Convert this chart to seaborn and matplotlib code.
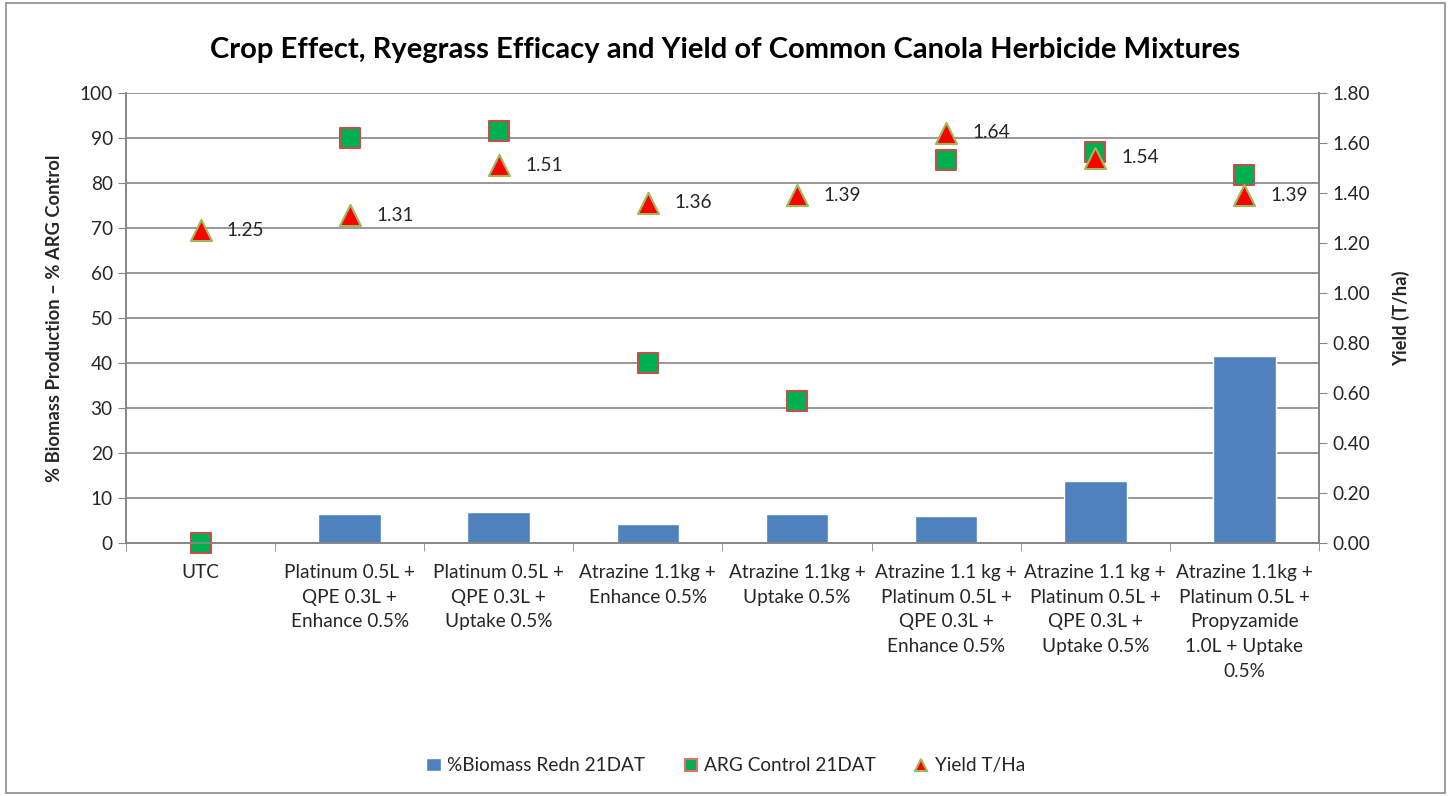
import matplotlib.pyplot as plt
import seaborn as sns
import numpy as np
import pandas as pd
from matplotlib.patches import Rectangle
from matplotlib.ticker import MultipleLocator, FixedLocator, FormatStrFormatter

# data
treatments = ['UTC',
              'Platinum 0.5L +\nQPE 0.3L +\nEnhance 0.5%',
              'Platinum 0.5L +\nQPE 0.3L +\nUptake 0.5%',
              'Atrazine 1.1kg +\nEnhance 0.5%',
              'Atrazine 1.1kg +\nUptake 0.5%',
              'Atrazine 1.1 kg +\nPlatinum 0.5L +\nQPE 0.3L +\nEnhance 0.5%',
              'Atrazine 1.1 kg +\nPlatinum 0.5L +\nQPE 0.3L +\nUptake 0.5%',
              'Atrazine 1.1kg +\nPlatinum 0.5L +\nPropyzamide\n1.0L + Uptake\n0.5%']
biomass_redn = [0, 6.4, 6.9, 4.2, 6.4, 6.0, 13.8, 41.6]
arg_control = [0, 90, 91.5, 40, 31.5, 85, 86.9, 81.8]
yield_tha = [1.25, 1.31, 1.51, 1.36, 1.39, 1.64, 1.54, 1.39]

df = pd.DataFrame({'treatment': treatments, 'biomass': biomass_redn,
                   'arg': arg_control, 'yield': yield_tha,
                   'pos': np.arange(len(treatments))})

sns.set_style('white')
plt.rcParams['font.family'] = ['Lato', 'DejaVu Sans']
fs = 13.7

fig = plt.figure(figsize=(14.51, 7.96), dpi=100)
ax = fig.add_axes([0.0868, 0.3178, 0.8222, 0.5654])
fig.patches.append(Rectangle((0.004, 0.004), 0.992, 0.992, transform=fig.transFigure,
                             fill=False, edgecolor='#8c8c8c', linewidth=1.2))

grid_c = '#868686'
sns.barplot(data=df, x='treatment', y='biomass', color='#4f81bd', saturation=1,
            width=0.42, ax=ax, zorder=2)
sns.scatterplot(data=df, x='pos', y='arg', marker='s', s=190, color='#00b050',
                edgecolor='#c0504d', linewidth=1.5, ax=ax, zorder=3, clip_on=False)

ax.set_xlim(-0.5, 7.5)
ax.set_ylim(0, 100)
ax.yaxis.set_major_locator(MultipleLocator(10))
ax.set_xticks(range(len(treatments)))
ax.set_xticklabels(treatments, fontsize=fs, linespacing=1.55)
ax.xaxis.set_minor_locator(FixedLocator(np.arange(-0.5, 8, 1)))
ax.tick_params(axis='x', which='major', length=0, pad=15)
ax.tick_params(axis='x', which='minor', length=6, color=grid_c, direction='out', bottom=True)
ax.tick_params(axis='y', length=6, color=grid_c, direction='out', labelsize=fs, left=True)
ax.grid(axis='y', color=grid_c, linewidth=1.2, zorder=0)
ax.set_axisbelow(True)
ax.set_xlabel('')
ax.set_ylabel('% Biomass Production – % ARG Control', fontsize=fs - 0.5,
              fontweight='bold', labelpad=12)
for s in ['left', 'bottom', 'right']:
    ax.spines[s].set_color(grid_c)
    ax.spines[s].set_linewidth(1.2)
ax.spines['top'].set_visible(False)

ax2 = ax.twinx()
sns.scatterplot(data=df, x='pos', y='yield', marker='^', s=230, color='#ff0000',
                edgecolor='#9bbb59', linewidth=1.5, ax=ax2, zorder=4, clip_on=False)
for x, y in zip(df['pos'], df['yield']):
    ax2.annotate(f'{y:.2f}', (x, y), xytext=(19, 0), textcoords='offset points',
                 va='center', ha='left', fontsize=fs)
ax2.set_ylim(0, 1.8)
ax2.yaxis.set_major_locator(MultipleLocator(0.2))
ax2.yaxis.set_major_formatter(FormatStrFormatter('%.2f'))
ax2.tick_params(axis='y', length=6, color=grid_c, direction='out', labelsize=fs, right=True)
ax2.set_ylabel('Yield (T/ha)', fontsize=fs - 0.5, fontweight='bold', labelpad=16)
for s in ['left', 'bottom', 'right']:
    ax2.spines[s].set_color(grid_c)
    ax2.spines[s].set_linewidth(1.2)
ax2.spines['top'].set_visible(False)
ax2.set_xlim(-0.5, 7.5)
ax2.set_xlabel('')

fig.text(0.5, 0.937, 'Crop Effect, Ryegrass Efficacy and Yield of Common Canola Herbicide Mixtures',
         ha='center', va='center', fontsize=21, fontweight='bold', color='black')

# legend
h1 = Rectangle((0, 0), 1, 1, facecolor='#4f81bd')
h2 = plt.Line2D([], [], marker='s', linestyle='', markersize=9, markerfacecolor='#00b050',
                markeredgecolor='#e07070', markeredgewidth=1.5)
h3 = plt.Line2D([], [], marker='^', linestyle='', markersize=9, markerfacecolor='#ff0000',
                markeredgecolor='#9bbb59', markeredgewidth=1.5)
fig.legend([h1, h2, h3], ['%Biomass Redn 21DAT', 'ARG Control 21DAT', 'Yield T/Ha'],
           loc='center', bbox_to_anchor=(0.5, 0.038), ncol=3, frameon=False,
           fontsize=fs, handlelength=0.8, handletextpad=0.3, columnspacing=2.0)
if ax.get_legend() is not None:
    ax.get_legend().remove()
if ax2.get_legend() is not None:
    ax2.get_legend().remove()

fig.savefig('out.png', dpi=100)
